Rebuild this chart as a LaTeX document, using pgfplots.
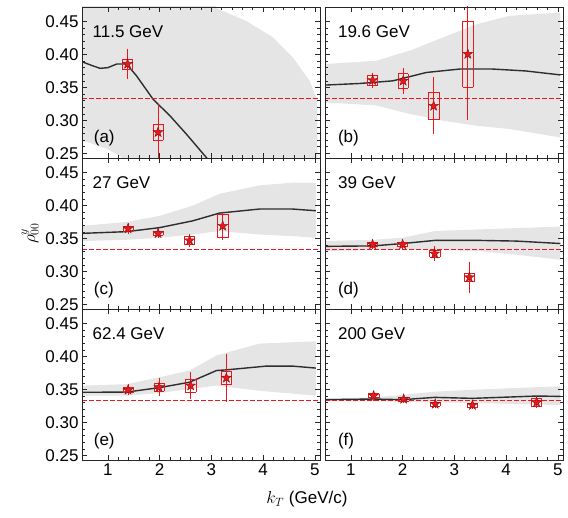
\documentclass[border=0pt]{standalone}
\usepackage{fontspec}
\setmainfont{Liberation Sans}
\usepackage{pgfplots}
\pgfplotsset{compat=1.18}
\usepackage{pgfplotstable}
\usepgfplotslibrary{groupplots}

\definecolor{band}{RGB}{229,229,229}
\definecolor{ptred}{RGB}{232,24,28}
\definecolor{curve}{RGB}{45,45,45}

% filled five-point star
\pgfdeclareplotmark{fstar}{%
  \pgfpathmoveto{\pgfpointpolar{90}{\pgfplotmarksize}}%
  \pgfpathlineto{\pgfpointpolar{126}{0.4*\pgfplotmarksize}}%
  \pgfpathlineto{\pgfpointpolar{162}{\pgfplotmarksize}}%
  \pgfpathlineto{\pgfpointpolar{198}{0.4*\pgfplotmarksize}}%
  \pgfpathlineto{\pgfpointpolar{234}{\pgfplotmarksize}}%
  \pgfpathlineto{\pgfpointpolar{270}{0.4*\pgfplotmarksize}}%
  \pgfpathlineto{\pgfpointpolar{306}{\pgfplotmarksize}}%
  \pgfpathlineto{\pgfpointpolar{342}{0.4*\pgfplotmarksize}}%
  \pgfpathlineto{\pgfpointpolar{18}{\pgfplotmarksize}}%
  \pgfpathlineto{\pgfpointpolar{54}{0.4*\pgfplotmarksize}}%
  \pgfpathclose\pgfusepathqfillstroke}

\pgfplotsset{
  band/.style={fill=band, draw=none},
  theo/.style={draw=curve, line width=1.4pt, mark=none},
  third/.style={draw=ptred, line width=1.3pt, dash pattern=on 4.5pt off 2.5pt},
}

% x  y  stat  sys
\pgfplotstableread{
x y e s
1.38 0.3855 0.020 0.0075
1.97 0.282 0.040 0.012
}\ptsa
\pgfplotstableread{
x y e s
1.42 0.361 0.008 0.007
2.01 0.360 0.016 0.011
2.60 0.322 0.040 0.021
3.26 0.4006 0.096 0.050
}\ptsb
\pgfplotstableread{
x y e s
1.39 0.365 0.005 0.004
1.97 0.3577 0.003 0.003
2.58 0.347 0.006 0.006
3.22 0.369 0.018 0.018
}\ptsc
\pgfplotstableread{
x y e s
1.42 0.3408 0.003 0.003
2.00 0.341 0.004 0.003
2.62 0.327 0.008 0.005
3.29 0.291 0.020 0.006
}\ptsd
\pgfplotstableread{
x y e s
1.39 0.3492 0.005 0.004
1.99 0.3533 0.010 0.006
2.60 0.3558 0.017 0.010
3.29 0.3676 0.033 0.010
}\ptse
\pgfplotstableread{
x y e s
1.44 0.3405 0.004 0.003
2.02 0.3355 0.003 0.003
2.63 0.3279 0.003 0.003
3.35 0.3263 0.003 0.003
4.59 0.3305 0.006 0.006
}\ptsf

% systematic boxes: two sides (y bars at x-0.1, x+0.1) and two caps (x bars at y-s, y+s)
% then statistical bars, then the stars
\newcommand{\datapoints}[1]{%
  \addplot[draw=none, mark=none, error bars/.cd, y dir=both, y explicit,
    error mark=none, error bar style={draw=ptred, line width=0.6pt}]
    table[x expr=\thisrow{x}-0.1, y=y, y error=s]{#1};
  \addplot[draw=none, mark=none, error bars/.cd, y dir=both, y explicit,
    error mark=none, error bar style={draw=ptred, line width=0.6pt}]
    table[x expr=\thisrow{x}+0.1, y=y, y error=s]{#1};
  \addplot[draw=none, mark=none, error bars/.cd, x dir=both, x fixed=0.1,
    error mark=none, error bar style={draw=ptred, line width=0.6pt}]
    table[x=x, y expr=\thisrow{y}-\thisrow{s}]{#1};
  \addplot[draw=none, mark=none, error bars/.cd, x dir=both, x fixed=0.1,
    error mark=none, error bar style={draw=ptred, line width=0.6pt}]
    table[x=x, y expr=\thisrow{y}+\thisrow{s}]{#1};
  \addplot[draw=none, mark=none, error bars/.cd, y dir=both, y explicit,
    error mark options={draw=ptred, line width=0.75pt, mark size=2.2pt},
    error bar style={draw=ptred, line width=0.75pt}]
    table[x=x, y=y, y error=e]{#1};
  \addplot[draw=none, mark=fstar, mark size=5.2pt,
    mark options={fill=ptred, draw=ptred!60!black, line width=0.4pt}]
    table[x=x, y=y]{#1};
}

\begin{document}
\begin{tikzpicture}[font=\fontsize{17}{20}\selectfont]
\begin{groupplot}[
  group style={group size=2 by 3, horizontal sep=5pt, vertical sep=0pt,
    x descriptions at=edge bottom, y descriptions at=edge left},
  scale only axis, width=238pt, height=151pt,
  xmin=0.5, xmax=5.1, ymin=0.243, ymax=0.472,
  xtick={1,2,3,4,5}, minor x tick num=4,
  ytick={0.25,0.30,0.35,0.40,0.45}, minor y tick num=4,
  yticklabel style={/pgf/number format/fixed, /pgf/number format/fixed zerofill,
    /pgf/number format/precision=2},
  /pgf/number format/assume math mode=true,
  tick label style={font=\fontsize{17}{20}\selectfont},
  label style={font=\fontsize{17}{20}\selectfont},
  tick align=inside, major tick length=5pt, minor tick length=3pt,
  axis line style={line width=0.8pt, black!85},
  tick style={black!85, line width=0.6pt},
  axis on top,
]
% (a) 11.5 GeV
\nextgroupplot
\addplot[band] coordinates {(0.5,0.5) (3.0,0.5) (3.1,0.47) (3.67,0.451) (4.19,0.426)
  (4.58,0.395) (4.9,0.36) (5.05,0.33) (5.05,0.2) (1.6,0.2) (1.25,0.245) (1.0,0.256)
  (0.8,0.262) (0.5,0.27)};
\addplot[theo] coordinates {(0.5,0.389) (0.7,0.383) (0.85,0.379) (1.0,0.380) (1.17,0.3855)
  (1.36,0.3855) (1.55,0.368) (1.875,0.332) (2.2,0.307) (2.52,0.279) (2.9,0.244) (3.2,0.215)};
\addplot[third] coordinates {(0.5,0.3333) (5.1,0.3333)};
\datapoints{\ptsa}
\node[anchor=west] at (rel axis cs:0.03,0.84) {11.5 GeV};
\node[anchor=west] at (rel axis cs:0.035,0.13) {(a)};
% (b) 19.6 GeV
\nextgroupplot
\addplot[band] coordinates {(0.5,0.3855) (1.49,0.3905) (2.13,0.4056) (2.78,0.4258)
  (3.4,0.445) (4.06,0.4586) (5.05,0.4636) (5.05,0.2742) (4.06,0.287) (3.42,0.292)
  (2.78,0.2995) (2.13,0.310) (1.49,0.3227) (0.5,0.3273)};
\addplot[theo] coordinates {(0.5,0.3536) (1.17,0.356) (1.81,0.360) (2.46,0.3727)
  (3.1,0.3779) (3.74,0.3779) (4.38,0.375) (5.05,0.369)};
\addplot[third] coordinates {(0.5,0.3333) (5.1,0.3333)};
\datapoints{\ptsb}
\node[anchor=west] at (rel axis cs:0.04,0.84) {19.6 GeV};
\node[anchor=west] at (rel axis cs:0.04,0.13) {(b)};
% (c) 27 GeV
\nextgroupplot[ylabel={$\rho^{y}_{00}$}]
\addplot[band] coordinates {(0.5,0.369) (1.36,0.375) (2.0,0.3843) (2.64,0.3997)
  (3.16,0.4177) (3.93,0.4305) (4.57,0.4346) (5.02,0.4346) (5.02,0.351) (4.57,0.3535)
  (3.93,0.356) (3.16,0.3612) (2.64,0.356) (2.0,0.351) (1.36,0.348) (0.5,0.3459)};
\addplot[theo] coordinates {(0.5,0.3577) (1.36,0.3603) (2.0,0.3664) (2.64,0.3767)
  (3.16,0.3885) (3.93,0.3946) (4.57,0.3946) (5.02,0.392)};
\addplot[third] coordinates {(0.5,0.3333) (5.1,0.3333)};
\datapoints{\ptsc}
\node[anchor=west] at (rel axis cs:0.03,0.84) {27 GeV};
\node[anchor=west] at (rel axis cs:0.035,0.125) {(c)};
% (d) 39 GeV
\nextgroupplot
\addplot[band] coordinates {(0.5,0.346) (1.43,0.348) (2.0,0.351) (2.62,0.3612)
  (3.5,0.3638) (5.05,0.368) (5.05,0.3177) (4.2,0.3254) (3.5,0.3305) (2.62,0.3325)
  (2.0,0.333) (1.43,0.3325) (0.5,0.3305)};
\addplot[theo] coordinates {(0.5,0.338) (1.43,0.3387) (2.0,0.3423) (2.62,0.347)
  (3.5,0.347) (4.2,0.346) (5.05,0.3423)};
\addplot[third] coordinates {(0.5,0.3333) (5.1,0.3333)};
\datapoints{\ptsd}
\node[anchor=west] at (rel axis cs:0.04,0.84) {39 GeV};
\node[anchor=west] at (rel axis cs:0.04,0.125) {(d)};
% (e) 62.4 GeV
\nextgroupplot
\addplot[band] coordinates {(0.5,0.3558) (1.36,0.358) (2.0,0.3686) (2.58,0.3787)
  (3.1,0.4016) (3.93,0.4195) (5.02,0.423) (5.02,0.3405) (3.93,0.348) (3.1,0.3558)
  (2.58,0.3508) (2.0,0.3445) (1.36,0.3405) (0.5,0.3405)};
\addplot[theo] coordinates {(0.5,0.3457) (1.36,0.346) (2.0,0.3528) (2.58,0.361)
  (3.1,0.3787) (3.29,0.3797) (4.06,0.3854) (4.57,0.3854) (5.02,0.3824)};
\addplot[third] coordinates {(0.5,0.3333) (5.1,0.3333)};
\datapoints{\ptse}
\node[anchor=west] at (rel axis cs:0.03,0.84) {62.4 GeV};
\node[anchor=west] at (rel axis cs:0.035,0.125) {(e)};
% (f) 200 GeV
\nextgroupplot
\addplot[band] coordinates {(0.5,0.336) (1.43,0.338) (2.0,0.3416) (2.62,0.3466)
  (3.4,0.3497) (5.05,0.3549) (5.05,0.3263) (3.4,0.3294) (2.0,0.3314) (0.5,0.3335)};
\addplot[theo] coordinates {(0.5,0.3345) (1.43,0.3355) (2.0,0.3345) (2.62,0.338)
  (3.35,0.3365) (4.06,0.3385) (4.58,0.340) (5.05,0.3395)};
\addplot[third] coordinates {(0.5,0.3333) (5.1,0.3333)};
\datapoints{\ptsf}
\node[anchor=west] at (rel axis cs:0.04,0.84) {200 GeV};
\node[anchor=west] at (rel axis cs:0.04,0.125) {(f)};
\end{groupplot}
\node at ([shift={(-13pt,-39pt)}]group c1r3.south east) {$k_T$ (GeV/c)};
\path[use as bounding box] ([shift={(-82pt,7pt)}]group c1r1.north west)
  rectangle ([shift={(5pt,-57pt)}]group c2r3.south east);
\end{tikzpicture}
\end{document}
